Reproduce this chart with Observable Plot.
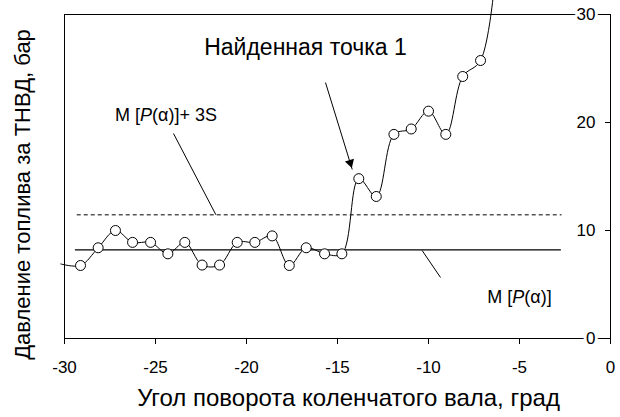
<!DOCTYPE html>
<html><head><meta charset="utf-8">
<script src="https://cdn.jsdelivr.net/npm/d3@7"></script>
<script src="https://cdn.jsdelivr.net/npm/@observablehq/plot@0.6"></script>
<style>body{margin:0;background:#fff}</style>
</head><body><div id="chart"></div>
<script>
// Measured series (crank angle, pressure)
const angle = [-30.2, -29.12, -28.15, -27.2, -26.26, -25.27, -24.32, -23.39, -22.44, -21.48, -20.51, -19.54, -18.59, -17.65, -16.72, -15.71, -14.76, -13.83, -12.87, -11.9, -10.95, -10.0, -9.05, -8.12, -7.14, -6.2];
const pressure = [6.9, 6.76, 8.4, 10.0, 8.9, 8.9, 7.84, 8.9, 6.8, 6.8, 8.9, 8.9, 9.5, 6.76, 8.4, 7.84, 7.84, 14.8, 13.15, 18.9, 19.4, 21.05, 18.9, 24.26, 25.74, 36];

// Reference levels
const levelNames = ["mean", "mean+3S"];
const levelValues = [8.2, 11.45];
const levelStart = [-29.4, -29.3];
const levelEnd = [-2.7, -2.66];

// Ticks and titles
const xTicks = [-30, -25, -20, -15, -10, -5, 0];
const yTicks = [0, 10, 20, 30];
const xTitle = "Угол поворота коленчатого вала, град";
const yTitle = "Давление топлива за ТНВД, бар";

// Annotations
const noteTexts = ["Найденная точка 1", "M [P(α)]+ 3S", "M [P(α)]"];
const noteX = [-16.76, -24.42, -5.0];
const noteY = [26.94, 20.71, 3.8];
const leaderX1 = [-24.01, -10.35];
const leaderY1 = [18.98, 8.15];
const leaderX2 = [-21.68, -9.34];
const leaderY2 = [11.45, 5.65];
const arrowX1 = [-15.66];
const arrowY1 = [23.7];
const arrowX2 = [-14.19];
const arrowY2 = [15.65];

const series = angle.map((a, i) => ({a, p: pressure[i]}));
const inside = series.filter(d => d.a >= -30 && d.p <= 30);
const levels = levelNames.map((n, i) => ({n, v: levelValues[i], x1: levelStart[i], x2: levelEnd[i]}));
const notes = noteTexts.map((t, i) => ({t, x: noteX[i], y: noteY[i]}));
const leaders = leaderX1.map((x, i) => ({x1: x, y1: leaderY1[i], x2: leaderX2[i], y2: leaderY2[i]}));
const arrows = arrowX1.map((x, i) => ({x1: x, y1: arrowY1[i], x2: arrowX2[i], y2: arrowY2[i]}));

const font = "'Liberation Sans', Arial, sans-serif";

const svg = Plot.plot({
  width: 620,
  height: 417,
  marginLeft: 64,
  marginRight: 10,
  marginTop: 14,
  marginBottom: 79,
  style: {fontFamily: font, fontSize: "16px", background: "white", color: "black"},
  x: {domain: [-30, 0]},
  y: {domain: [0, 30]},
  marks: [
    Plot.frame({stroke: "black", strokeWidth: 1}),
    Plot.axisX({ticks: xTicks, tickSize: 6, tickPadding: 16, fontSize: 17, label: null, tickFormat: d => d}),
    Plot.axisY({anchor: "right", ticks: yTicks, tickSize: 6, dx: -6, tickFormat: () => "", label: null}),
    Plot.ruleY([levels[0]], {y: "v", x1: "x1", x2: "x2", stroke: "black", strokeWidth: 1.2}),
    Plot.ruleY([levels[1]], {y: "v", x1: "x1", x2: "x2", stroke: "black", strokeWidth: 1, strokeDasharray: "4,3"}),
    Plot.line(series, {x: "a", y: "p", curve: "catmull-rom", stroke: "black", strokeWidth: 1}),
    Plot.dot(inside, {x: "a", y: "p", r: 5, fill: "white", stroke: "black", strokeWidth: 1}),
    Plot.link(leaders, {x1: "x1", y1: "y1", x2: "x2", y2: "y2", stroke: "black", strokeWidth: 1}),
    Plot.link(arrows, {x1: "x1", y1: "y1", x2: "x2", y2: "y2", stroke: "black", strokeWidth: 1}),
    Plot.dot(arrows, {x: "x2", y: "y2", symbol: "triangle2", r: 4.5, fill: "black", stroke: "none", rotate: 163, dx: -2, dy: -6.7}),
    Plot.text(notes.slice(0, 1), {x: "x", y: "y", text: "t", fontSize: 23, textAnchor: "middle", fill: "black"}),
    Plot.text(notes.slice(1), {x: "x", y: "y", text: "t", fontSize: 18, textAnchor: "middle", fill: "black"}),
    Plot.text(yTicks, {y: d => d, text: d => String(d), frameAnchor: "right", dx: -15, textAnchor: "end", fontSize: 17, fill: "black", stroke: "white", strokeWidth: 6}),
    Plot.text([xTitle], {frameAnchor: "bottom", textAnchor: "middle", lineAnchor: "middle", dx: 11, dy: 60, fontSize: 24, fill: "black"}),
    Plot.text([yTitle], {frameAnchor: "left", textAnchor: "middle", lineAnchor: "middle", rotate: -90, dx: -42, dy: 18, fontSize: 22, fill: "black"})
  ]
});

// italic P inside the M[P(α)] labels
d3.select(svg).selectAll("text").each(function() {
  const el = d3.select(this);
  if (this.children.length) return;
  const s = this.textContent;
  if (s.startsWith("M [P(")) {
    el.text(null);
    el.append("tspan").text("M [");
    el.append("tspan").attr("font-style", "italic").text("P");
    el.append("tspan").text(s.slice(4));
  }
});

document.getElementById("chart").appendChild(svg);
</script>
</body></html>
